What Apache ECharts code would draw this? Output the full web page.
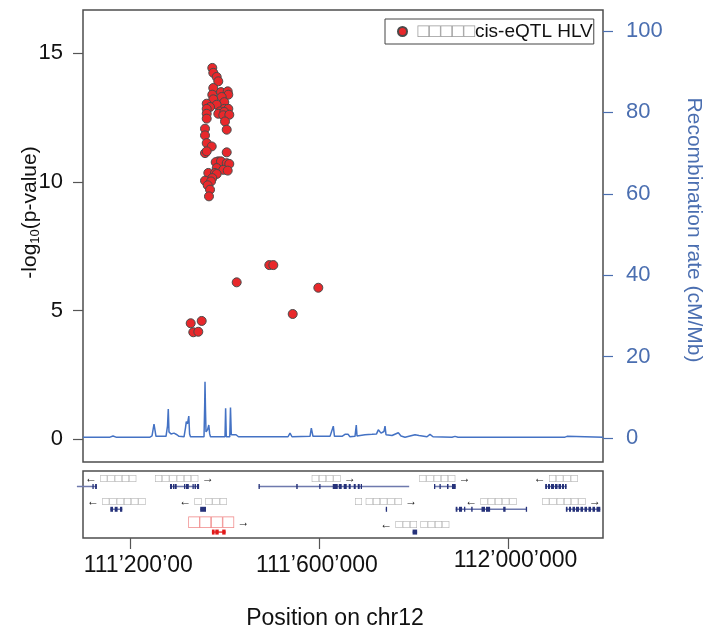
<!DOCTYPE html>
<html><head><meta charset="utf-8">
<script src="https://cdn.jsdelivr.net/npm/echarts@6/dist/echarts.min.js"></script>
<style>html,body{margin:0;padding:0;background:#fff}#c{width:709px;height:627px}</style>
</head><body><div id="c"></div>
<script>
// ---- data (positions in kb on chr12) ----
const xTickValues = [111200, 111600, 112000];
const xTickLabels = ['111’200’00', '111’600’000', '112’000’000'];
const leftTicks = [0, 5, 10, 15];
const rightTicks = [0, 20, 40, 60, 80, 100];

const seriesName = 'cis-eQTL HLV';
const legendPrefix = '□□□□□';

const snpPos = [
  111373.5,111375.6,111382.8,111386.2,111375.6,111391.9,111406.1,111407.4,111373.5,111393.4,
  111375.6,111398.9,111361.7,111382.8,111368.7,111398.9,111361.7,111389.8,111407.4,111361.7,
  111386.2,111398.9,111396.8,111409.5,111361.7,111400.4,111358.1,111404.0,111358.1,111361.7,
  111372.3,111358.1,111361.7,111404.0,111386.2,111380.7,111391.9,111404.0,111409.5,111382.8,
  111396.8,111406.1,111365.1,111379.2,111382.8,111373.5,111358.1,111370.8,111363.8,111368.7,
  111366.5,
  111494.1,111502.6,111425.1,111597.8,111543.6,111327.8,111351.1,111333.3,111343.9
];
const snpLogP = [
  14.43,14.24,14.08,13.91,13.65,13.49,13.52,13.39,13.39,13.30,
  13.21,13.10,13.04,13.00,12.91,12.84,12.84,12.74,12.84,12.65,
  12.65,12.72,12.59,12.61,12.46,12.35,12.07,12.03,11.81,11.51,
  11.38,11.12,11.19,11.15,10.80,10.77,10.80,10.73,10.70,10.54,
  10.47,10.44,10.35,10.35,10.31,10.15,10.05,10.02,9.87,9.70,
  9.44,
  6.77,6.77,6.10,5.89,4.87,4.51,4.60,4.16,4.18
];

const recombPos = [
  111100.0,111157.1,111163.5,111169.8,111241.7,111246.0,111250.2,111254.4,111275.6,111278.8,
  111280.4,111281.9,111286.2,111292.5,111294.6,111298.8,111303.1,111313.7,111316.8,111318.5,
  111321.1,111323.8,111325.5,111327.4,111356.0,111357.4,111358.1,111359.1,111360.2,111363.4,
  111366.1,111368.0,111369.7,111400.4,111401.7,111403.1,111410.5,111412.0,111413.7,111423.7,
  111428.9,111533.7,111537.9,111542.1,111580.2,111583.0,111584.4,111586.5,111622.5,111629.5,
  111632.0,111647.9,111654.2,111660.6,111664.8,111675.4,111678.1,111679.6,111696.5,111711.4,
  111720.9,111724.7,111730.4,111736.7,111738.9,111741.0,111753.7,111767.0,111772.7,111776.9,
  111781.2,111791.7,111802.3,111810.8,111815.0,111827.7,111834.0,111840.4,111880.6,111886.9,
  111893.3,111961.0,111965.2,111969.4,112032.9,112037.1,112041.4,112119.6,112123.9,112128.1,
  112200.0
];
const recombRate = [
  0.2,0.2,0.5,0.2,0.2,0.5,3.4,0.4,0.4,3.0,
  7.1,1.5,1.0,1.2,1.5,0.8,0.4,0.3,2.5,4.0,
  3.5,5.4,1.0,0.3,0.3,8.0,13.8,7.0,1.5,2.0,
  3.2,1.0,0.3,0.3,7.3,0.3,0.3,7.5,0.8,0.8,
  0.3,0.3,1.2,0.3,0.4,2.4,2.6,0.4,0.4,2.9,
  0.4,0.4,0.9,0.9,0.3,0.4,3.2,0.5,0.8,0.9,
  1.0,2.0,1.2,1.6,2.9,0.8,0.6,1.3,0.5,0.8,
  0.2,0.5,0.8,0.6,0.2,0.3,0.9,0.3,0.2,0.4,
  0.2,0.2,0.4,0.2,0.2,0.4,0.2,0.2,0.4,0.2,
  0.2
];

const geneNames = ['□□□□□','□□□□□□','□□□□','□□□□□','□□□□','□□□□□□','□ □□□','□ □□□□□','□□□□□','□□□□□□','□□□□','□□□ □□□□'];
const geneStart = [111087.1,111283.8,111471.7,111843.1,112077.7,111157.8,111347.9,111740.5,111888.4,112121.5,111372.7,111797.2];
const geneEnd   = [111129.4,111345.6,111790.0,111888.4,112123.0,111183.1,111360.2,111742.0,112037.8,112194.3,111401.7,111806.8];
const geneStrand = ['-','+','+','+','-','-','-','+','-','+','+','-'];
const geneRow = [0,0,0,0,0,1,1,1,1,1,2,2];
const geneHighlight = [false,false,false,false,false,false,false,false,false,false,true,false];
const geneExons = [
  [[111119.9,111122.0],[111125.6,111129.4]],
  [[111284.0,111288.3],[111290.4,111293.6],[111294.6,111298.2],[111313.7,111315.8],[111317.9,111323.8],[111331.6,111333.7],[111335.9,111339.0],[111341.2,111345.6]],
  [[111471.3,111473.4],[111551.1,111554.2],[111599.7,111601.8],[111628.3,111638.9],[111641.0,111647.3],[111651.5,111657.9],[111662.1,111666.3],[111672.7,111676.9],[111681.2,111685.4],[111687.5,111690.0]],
  [[111842.5,111844.6],[111854.1,111856.3],[111870.0,111873.2],[111880.6,111888.4]],
  [[112077.7,112081.5],[112083.7,112087.9],[112090.0,112096.4],[112098.5,112103.8],[112105.9,112111.2],[112113.3,112117.5],[112119.6,112123.0]],
  [[111157.8,111163.5],[111167.1,111173.2],[111178.3,111183.1]],
  [[111347.9,111360.2]],
  [[111740.5,111742.0]],
  [[111888.4,111892.0],[111895.4,111901.8],[111906.0,111908.2],[111921.2,111924.2],[111943.0,111950.4],[111952.5,111961.2],[111988.9,111993.9],[112036.7,112037.8]],
  [[112121.5,112124.9],[112128.1,112132.3],[112135.5,112140.8],[112142.9,112149.3],[112152.4,112157.7],[112160.9,112166.2],[112169.3,112174.6],[112177.8,112183.1],[112186.3,112194.3]],
  [[111372.7,111378.4],[111379.9,111387.1],[111394.5,111401.7]],
  [[111797.2,111806.8]]
];

// ---- chart ----
const FONT = '"Liberation Sans", Arial, sans-serif';
const X_MIN = 111100, X_MAX = 112200;
const measureCtx = document.createElement('canvas').getContext('2d');
function textWidth(t, size) { measureCtx.font = size + 'px ' + FONT; return measureCtx.measureText(t).width; }

function renderGene(params, api) {
  const i = api.value(3);
  const row = api.value(2);
  const s = api.coord([api.value(0), row]);
  const e = api.coord([api.value(1), row]);
  const y = s[1];
  const hl = geneHighlight[i];
  const lineColor = hl ? '#e83838' : '#6e79ad';
  const exColor = hl ? '#e01a1a' : '#26327a';
  const children = [{ type: 'line', shape: { x1: s[0], y1: y, x2: e[0], y2: y }, style: { stroke: lineColor, lineWidth: 1.5 } }];
  geneExons[i].forEach(function (ex) {
    const a = api.coord([ex[0], row])[0];
    const b = api.coord([ex[1], row])[0];
    children.push({ type: 'rect', shape: { x: a, y: y - 2.5, width: Math.max(b - a, 1.3), height: 5 }, style: { fill: exColor } });
  });
  const fs = hl ? 19 : 12;
  const name = geneNames[i];
  const minus = geneStrand[i] === '-';
  const text = minus ? '{ar|←} {nm|' + name + '}' : '{nm|' + name + '} {ar|→}';
  const w = textWidth(name, fs) + textWidth('← ', 12);
  const cs = params.coordSys;
  let cx = (s[0] + e[0]) / 2;
  cx = Math.max(cs.x + w / 2 + 2, Math.min(cs.x + cs.width - w / 2 - 2, cx));
  children.push({
    type: 'text', x: cx, y: y - (hl ? 9 : 7.5),
    style: {
      text: text, align: 'center', verticalAlign: 'middle', fontFamily: FONT,
      rich: {
        ar: { fontSize: 12, fill: '#111', fontFamily: FONT },
        nm: { fontSize: fs, fill: hl ? '#f08a8a' : '#a8a8a8', fontFamily: FONT }
      }
    }
  });
  return { type: 'group', children: children };
}

const chart = echarts.init(document.getElementById('c'), null, { renderer: 'canvas' });
chart.setOption({
  animation: false,
  textStyle: { fontFamily: FONT },
  grid: [
    { left: 83, top: 10, width: 520, height: 452, show: true, borderColor: '#4d4d4d', borderWidth: 1.5, backgroundColor: 'transparent', containLabel: false, outerBoundsMode: 'none' },
    { left: 83, top: 471, width: 520, height: 67, show: true, borderColor: '#4d4d4d', borderWidth: 1.5, backgroundColor: 'transparent', containLabel: false, outerBoundsMode: 'none' }
  ],
  legend: {
    left: 385, top: 19, padding: [3, 1, 3, 12], itemWidth: 20, itemHeight: 9,
    borderColor: '#444', borderWidth: 1, backgroundColor: '#fff',
    data: [{ name: legendPrefix + seriesName, icon: 'circle' }],
    formatter: function (n) { return '{g|' + legendPrefix + '}{t|' + n.slice(legendPrefix.length) + '}'; },
    textStyle: {
      rich: {
        g: { fontSize: 19, color: '#9a9a9a', fontFamily: FONT },
        t: { fontSize: 19, color: '#111', fontFamily: FONT }
      }
    }
  },
  xAxis: [
    { gridIndex: 0, type: 'value', min: X_MIN, max: X_MAX, show: false },
    {
      gridIndex: 1, type: 'value', min: X_MIN, max: X_MAX, position: 'bottom',
      axisLine: { show: false, onZero: false }, splitLine: { show: false },
      axisTick: { show: true, customValues: xTickValues, length: 11, lineStyle: { color: '#555', width: 1.2 } },
      axisLabel: {
        show: true, customValues: xTickValues, margin: 16, fontSize: 23, color: '#111',
        formatter: function (v) { const k = xTickValues.indexOf(v); return k === 0 ? '{a|' + xTickLabels[k] + '}' : (k === 2 ? '{c|' + xTickLabels[k] + '}' : '{b|' + xTickLabels[k] + '}'); },
        rich: {
          a: { fontSize: 23, color: '#111', padding: [0, 0, 0, 16], lineHeight: 23 },
          b: { fontSize: 23, color: '#111', padding: [0, 5, 0, 0], lineHeight: 23 },
          c: { fontSize: 23, color: '#111', padding: [0, 0, 0, 14], lineHeight: 13 }
        }
      },
      name: 'Position on chr12', nameLocation: 'middle', nameGap: 69, nameMoveOverlap: false,
      nameTextStyle: { fontSize: 23, color: '#111', padding: [0, 16, 0, 0] }
    }
  ],
  yAxis: [
    {
      gridIndex: 0, type: 'value', position: 'left', min: -0.88, max: 16.68,
      axisLine: { show: false, onZero: false }, splitLine: { show: false },
      axisTick: { show: true, customValues: leftTicks, length: 10, lineStyle: { color: '#555', width: 1.2 } },
      axisLabel: { show: true, customValues: leftTicks, margin: 20, fontSize: 22, color: '#111' },
      name: '-log{s|10}(p-value)', nameLocation: 'middle', nameGap: 41, nameMoveOverlap: false,
      nameTextStyle: {
        fontSize: 21, color: '#111', padding: [0, 0, 0, 47], lineHeight: 24,
        rich: { s: { fontSize: 13, color: '#111', verticalAlign: 'bottom', lineHeight: 24 } }
      }
    },
    {
      gridIndex: 0, type: 'value', position: 'right', min: -5.9, max: 105.16,
      axisLine: { show: false, onZero: false }, splitLine: { show: false },
      axisTick: { show: true, customValues: rightTicks, length: 10, lineStyle: { color: '#4a6eb0', width: 1.2 } },
      axisLabel: { show: true, customValues: rightTicks, margin: 23, fontSize: 22, color: '#4a6eb0' },
      name: 'Recombination rate (cM/Mb)', nameLocation: 'middle', nameGap: 80, nameRotate: -90, nameMoveOverlap: false,
      nameTextStyle: { fontSize: 21, color: '#4a6eb0', padding: [0, 12, 0, 0] }
    },
    { gridIndex: 1, type: 'value', min: -0.68, max: 2.26, inverse: true, show: false }
  ],
  series: [
    {
      type: 'line', name: 'recomb', xAxisIndex: 0, yAxisIndex: 1, symbol: 'none', z: 2,
      lineStyle: { color: '#4472c4', width: 1.5 },
      data: recombPos.map(function (p, i) { return [p, recombRate[i]]; })
    },
    {
      type: 'scatter', name: legendPrefix + seriesName, xAxisIndex: 0, yAxisIndex: 0, z: 3,
      symbol: 'circle', symbolSize: 9,
      itemStyle: { color: '#e8282b', borderColor: '#4a4a4a', borderWidth: 1, opacity: 1 },
      data: snpPos.map(function (p, i) { return [p, snpLogP[i]]; })
    },
    {
      type: 'custom', name: 'genes', xAxisIndex: 1, yAxisIndex: 2, renderItem: renderGene, clip: false,
      encode: { x: [0, 1], y: 2 },
      data: geneStart.map(function (s, i) { return [s, geneEnd[i], geneRow[i], i]; })
    }
  ]
});
</script>
</body></html>
